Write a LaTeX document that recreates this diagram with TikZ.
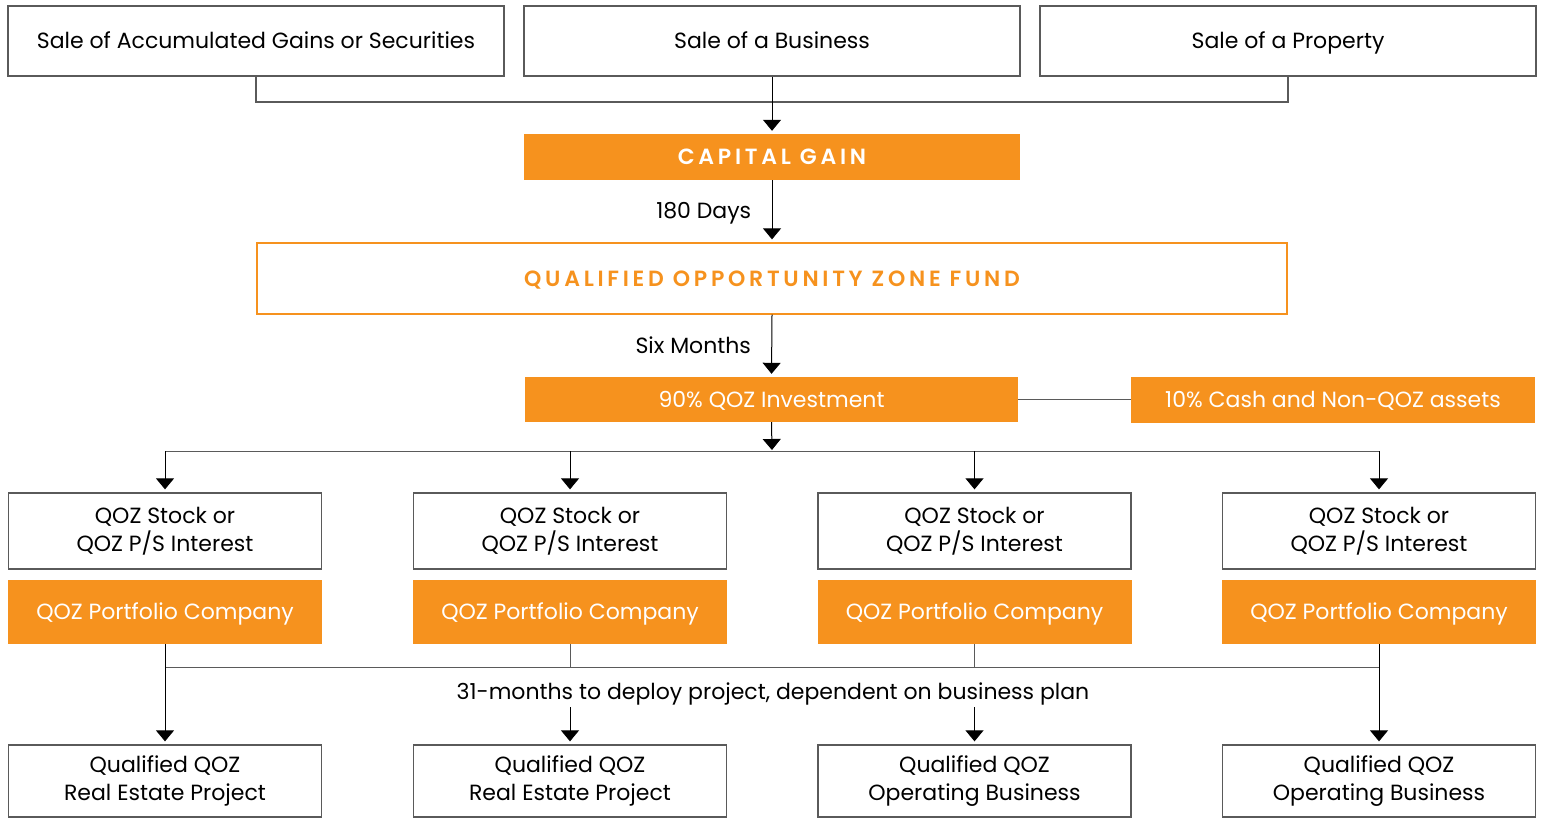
\documentclass[tikz,border=0pt]{standalone}
\usepackage{fontspec}
\setmainfont{Poppins}
\newfontfamily\spacedfont[LetterSpace=17]{Poppins SemiBold}
\usetikzlibrary{arrows.meta}

\definecolor{qozorange}{RGB}{246,146,30}
\definecolor{linegray}{RGB}{90,90,90}

\tikzset{
    whitebox/.style={draw=linegray, line width=1.3pt, fill=white, align=center, inner sep=0pt},
    orangebox/.style={fill=qozorange, text=white, align=center, inner sep=0pt},
    fundbox/.style={draw=qozorange, line width=1.3pt, fill=white, text=qozorange, align=center, inner sep=0pt},
    oneline/.style={text height=19pt, text depth=4pt},
    twolines/.style={yshift=1.5pt},
    link/.style={draw=linegray, line width=1.3pt},
    flow/.style={draw=black, line width=1pt, -{Triangle[width=18pt,length=11pt]}, shorten >=3pt},
}

\begin{document}
\begin{tikzpicture}[x=1pt,y=-1pt, font=\fontsize{22}{28}\selectfont]
    \useasboundingbox (0,0) rectangle (1546,822);

    %Shape: sales at the top
    \node [whitebox, oneline, minimum width=496pt, minimum height=70pt] (sale1) at (256,41) {Sale of Accumulated Gains or Securities};
    \node [whitebox, oneline, minimum width=496pt, minimum height=70pt] (sale2) at (772,41) {Sale of a Business};
    \node [whitebox, oneline, minimum width=496pt, minimum height=70pt] (sale3) at (1288,41) {Sale of a Property};

    %Shape: gain and fund
    \node [orangebox, oneline, minimum width=496pt, minimum height=46pt] (gain) at (772,157) {\spacedfont CAPITAL GAIN};
    \node [fundbox, oneline, minimum width=1030pt, minimum height=71pt] (fund) at (772,278.5) {\spacedfont QUALIFIED OPPORTUNITY ZONE FUND};

    %Shape: investment split
    \node [orangebox, oneline, minimum width=493pt, minimum height=45pt] (invest) at (771.5,399.5) {90\% QOZ Investment};
    \node [orangebox, oneline, minimum width=404pt, minimum height=46pt] (cash) at (1333,399.5) {10\% Cash and Non-QOZ assets};

    %Shape: four columns
    \foreach \i/\cx in {1/165, 2/570, 3/974.5, 4/1379} {
        \node [whitebox, minimum width=313pt, minimum height=76pt] (stock\i) at (\cx,531) {QOZ Stock or\\QOZ P/S Interest};
        \node [orangebox, oneline, minimum width=314pt, minimum height=64pt] (port\i) at (\cx,612) {QOZ Portfolio Company};
    }
    \node [whitebox, minimum width=313pt, minimum height=72pt] (proj1) at (165,781) {Qualified QOZ\\Real Estate Project};
    \node [whitebox, minimum width=313pt, minimum height=72pt] (proj2) at (570,781) {Qualified QOZ\\Real Estate Project};
    \node [whitebox, minimum width=313pt, minimum height=72pt] (proj3) at (974.5,781) {Qualified QOZ\\Operating Business};
    \node [whitebox, minimum width=313pt, minimum height=72pt] (proj4) at (1379,781) {Qualified QOZ\\Operating Business};

    % Text Node
    \node [oneline] (deploy) at (773,692) {31-months to deploy project, dependent on business plan};

    %Straight Lines: sales to gain
    \coordinate (collect) at (772,102);
    \draw [link] (sale1.south) |- (collect) -| (sale3.south);
    \draw [flow] (sale2.south) -- (gain.north);

    %Straight Lines: gain to fund to investment
    \draw [flow] (gain.south) -- node [left, oneline, xshift=-17pt] {180 Days} (fund.north);
    \draw [flow] (fund.south) -- node [left, oneline, xshift=-17pt] {Six Months} (invest.north);
    \draw [link] (invest.east) -- (cash.west);

    %Straight Lines: investment to the four columns
    \coordinate (split) at (772,451);
    \draw [flow, shorten >=1pt] (invest.south) -- (split);
    \draw [link, line width=1pt] (stock1.north |- split) -- (stock4.north |- split);
    \foreach \i in {1,...,4}
        \draw [flow] (stock\i.north |- split) -- (stock\i.north);

    %Straight Lines: portfolio companies to projects
    \coordinate (merge) at (772,667);
    \draw [link, line width=1pt] (port1.south |- merge) -- (port4.south |- merge);
    \foreach \i in {2,3}
        \draw [link, line width=1pt] (port\i.south) -- (port\i.south |- merge);
    \draw [flow] (port1.south) -- (proj1.north);
    \draw [flow] (port4.south) -- (proj4.north);
    \draw [flow] (deploy.south -| proj2.north) -- (proj2.north);
    \draw [flow] (deploy.south -| proj3.north) -- (proj3.north);

\end{tikzpicture}
\end{document}
